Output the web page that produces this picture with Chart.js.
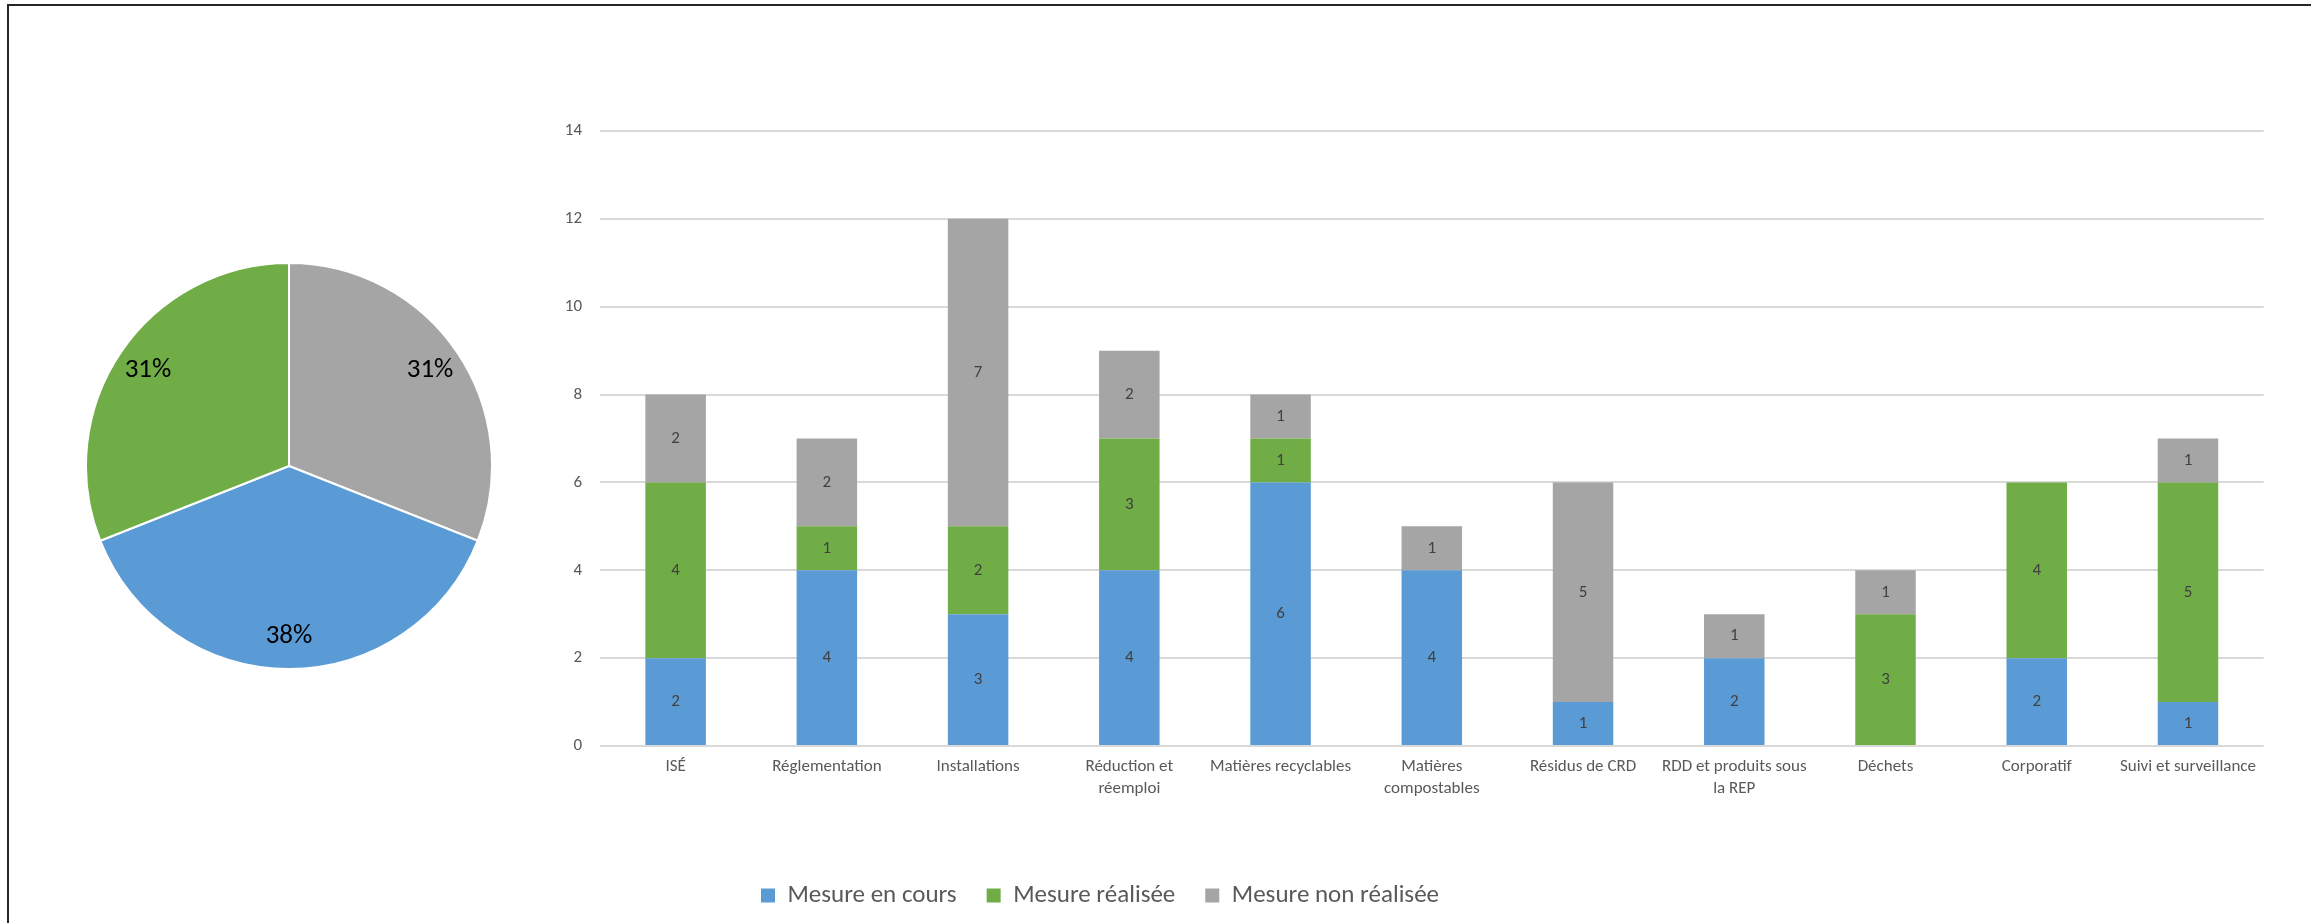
<!DOCTYPE html>
<html lang="fr">
<head>
<meta charset="utf-8">
<title>Mesures</title>
<script src="https://cdn.jsdelivr.net/npm/chart.js@4.4.1/dist/chart.umd.min.js"></script>
<style>
    html, body { margin: 0; padding: 0; background: #ffffff; overflow: hidden; }
    #cadre { position: absolute; left: 7px; top: 4px; width: 2400px; height: 1000px; border-top: 2px solid #262626; border-left: 2px solid #262626; }
    #bar-chart { position: absolute; left: -66px; top: 0; }
    #pie-chart { position: absolute; left: 85px; top: 262px; }
</style>
</head>
<body>
<div id="cadre"></div>
<canvas id="bar-chart" width="2332" height="923"></canvas>
<canvas id="pie-chart" width="408" height="408"></canvas>
<script>
// Données du graphique
const categories = ['ISÉ', 'Réglementation', 'Installations', ['Réduction et', 'réemploi'], 'Matières recyclables',
    ['Matières', 'compostables'], 'Résidus de CRD', ['RDD et produits sous', 'la REP'], 'Déchets', 'Corporatif',
    'Suivi et surveillance'];
const seriesNames = ['Mesure en cours', 'Mesure réalisée', 'Mesure non réalisée'];
const enCours = [2, 4, 3, 4, 6, 4, 1, 2, 0, 2, 1];
const realisee = [4, 1, 2, 3, 1, 0, 0, 0, 3, 4, 5];
const nonRealisee = [2, 2, 7, 2, 1, 1, 5, 1, 1, 0, 1];
const yMax = 14;
const yStep = 2;

// Camembert (ordre Excel : départ à midi, sens horaire)
const pieLabels = ['Mesure non réalisée', 'Mesure en cours', 'Mesure réalisée'];
const piePercents = [31, 38, 31];

const BLEU = '#5B9BD5';
const VERT = '#70AD47';
const GRIS = '#A5A5A5';
const FONT = 'Carlito, Lato, "Open Sans", sans-serif';

Chart.defaults.font.family = FONT;
Chart.defaults.color = '#595959';

// Étiquettes au centre des segments de barres
const barLabels = {
    id: 'barLabels',
    afterDatasetsDraw(chart) {
        const ctx = chart.ctx;
        ctx.save();
        ctx.font = '17px ' + FONT;
        ctx.fillStyle = '#404040';
        ctx.textAlign = 'center';
        ctx.textBaseline = 'middle';
        chart.data.datasets.forEach(function(ds, i) {
            const meta = chart.getDatasetMeta(i);
            meta.data.forEach(function(bar, j) {
                const v = ds.data[j];
                if (!v) return;
                const p = bar.getProps(['x', 'y', 'base'], true);
                ctx.fillText(String(v), p.x, (p.y + p.base) / 2);
            });
        });
        ctx.restore();
    }
};

// Pourcentages dans les parts du camembert
const pieLabelsPlugin = {
    id: 'pieLabels',
    afterDatasetsDraw(chart) {
        const ctx = chart.ctx;
        const ds = chart.data.datasets[0];
        const total = ds.data.reduce(function(a, b) { return a + b; }, 0);
        ctx.save();
        ctx.font = '27px ' + FONT;
        ctx.fillStyle = '#000000';
        ctx.textAlign = 'center';
        ctx.textBaseline = 'middle';
        chart.getDatasetMeta(0).data.forEach(function(arc, i) {
            const p = arc.getProps(['x', 'y', 'startAngle', 'endAngle', 'outerRadius'], true);
            const mid = (p.startAngle + p.endAngle) / 2;
            const r = p.outerRadius * 0.84;
            const txt = Math.round(ds.data[i] / total * 100) + '%';
            ctx.fillText(txt, p.x + Math.cos(mid) * r, p.y + Math.sin(mid) * r);
        });
        ctx.restore();
    }
};

new Chart(document.getElementById('bar-chart').getContext('2d'), {
    type: 'bar',
    data: {
        labels: categories,
        datasets: [
            { label: seriesNames[0], data: enCours, backgroundColor: BLEU },
            { label: seriesNames[1], data: realisee, backgroundColor: VERT },
            { label: seriesNames[2], data: nonRealisee, backgroundColor: GRIS }
        ]
    },
    options: {
        responsive: false,
        animation: false,
        categoryPercentage: 1,
        barPercentage: 0.4,
        layout: { padding: { left: 0, right: 0, top: 131, bottom: 5 } },
        plugins: {
            tooltip: { enabled: false },
            legend: {
                position: 'bottom',
                labels: {
                    boxWidth: 14,
                    boxHeight: 14,
                    padding: 30,
                    font: { size: 25 },
                    color: '#595959'
                }
            }
        },
        scales: {
            x: {
                stacked: true,
                grid: { display: false, drawTicks: false },
                border: { display: false },
                ticks: { padding: 10, font: { size: 17, lineHeight: 1.3 }, color: '#595959', maxRotation: 0, autoSkip: false },
                afterFit: function(scale) { scale.height = 107; }
            },
            y: {
                stacked: true,
                min: 0,
                max: yMax,
                grid: { color: '#d9d9d9', lineWidth: 2, drawTicks: false },
                border: { display: false },
                ticks: { stepSize: yStep, padding: 18, font: { size: 17 }, color: '#595959' },
                afterFit: function(scale) { scale.width = 666; }
            }
        }
    },
    plugins: [barLabels]
});

new Chart(document.getElementById('pie-chart').getContext('2d'), {
    type: 'pie',
    data: {
        labels: pieLabels,
        datasets: [{
            data: piePercents,
            backgroundColor: [GRIS, BLEU, VERT],
            borderColor: '#ffffff',
            borderWidth: 2
        }]
    },
    options: {
        responsive: false,
        animation: false,
        layout: { padding: 0 },
        plugins: {
            legend: { display: false },
            tooltip: { enabled: false }
        }
    },
    plugins: [pieLabelsPlugin]
});
</script>
</body>
</html>
